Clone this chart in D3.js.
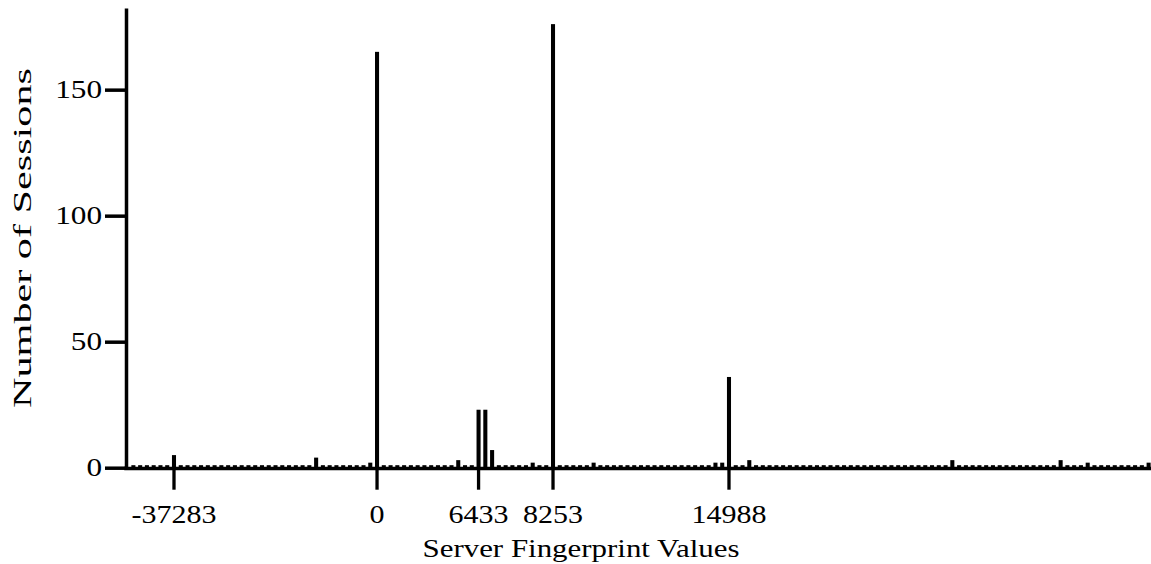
<!DOCTYPE html>
<html>
<head>
<meta charset="utf-8">
<script src="https://cdn.jsdelivr.net/npm/d3@7"></script>
<style>
    body { margin: 0; background: #fff; }
    svg { display: block; }
    .axis text { font-family: "Liberation Serif", "Times New Roman", serif; font-size: 25px; fill: #000; }
    .axis line, .axis path { stroke: #000; }
    .title { font-family: "Liberation Serif", "Times New Roman", serif; font-size: 25px; fill: #000; }
</style>
</head>
<body>
<div id="chart"></div>
<script>
"use strict";

// sessions per fingerprint bucket, left to right
const sessions = [
    1, 1, 1, 1, 1, 1, 5, 1, 1, 1,
    1, 1, 1, 1, 1, 1, 1, 1, 1, 1,
    1, 1, 1, 1, 1, 1, 1, 4, 1, 1,
    1, 1, 1, 1, 1, 2, 165, 1, 1, 1,
    1, 1, 1, 1, 1, 1, 1, 1, 3, 1,
    1, 23, 23, 7, 1, 1, 1, 1, 1, 2,
    1, 1, 176, 1, 1, 1, 1, 1, 2, 1,
    1, 1, 1, 1, 1, 1, 1, 1, 1, 1,
    1, 1, 1, 1, 1, 1, 2, 2, 36, 1,
    1, 3, 1, 1, 1, 1, 1, 1, 1, 1,
    1, 1, 1, 1, 1, 1, 1, 1, 1, 1,
    1, 1, 1, 1, 1, 1, 1, 1, 1, 1,
    1, 3, 1, 1, 1, 1, 1, 1, 1, 1,
    1, 1, 1, 1, 1, 1, 1, 3, 1, 1,
    1, 2, 1, 1, 1, 1, 1, 1, 1, 1,
    2
];
const categories = sessions.map(function (d, i) { return i; });
const tickCategories = [6, 36, 51, 62, 88];
const tickLabels = ["-37283", "0", "6433", "8253", "14988"];
const yTicks = [0, 50, 100, 150];
const yMax = 182.4;

const width = 1151;
const height = 564;
const axisX = 126;

const svg = d3.select("#chart").append("svg")
    .attr("width", width)
    .attr("height", height);

const xScale = d3.scaleBand()
    .domain(categories)
    .range([130, 1152])
    .paddingInner(0.4)
    .paddingOuter(0.2);

const yScale = d3.scaleLinear()
    .domain([0, yMax])
    .range([467.7, 8]);

// bars
svg.append("g")
    .selectAll("rect")
    .data(sessions)
    .enter()
    .append("rect")
    .attr("x", function (d, i) { return xScale(i); })
    .attr("width", xScale.bandwidth())
    .attr("y", function (d) { return yScale(d); })
    .attr("height", function (d) { return yScale(0) - yScale(d); })
    .attr("fill", "#000");

function stretchText(sel, sx) {
    sel.each(function () {
        var t = d3.select(this);
        var x = +t.attr("x") || 0;
        var y = +t.attr("y") || 0;
        t.attr("x", 0).attr("y", 0)
            .attr("transform", "translate(" + x + "," + y + ") scale(" + sx + ",1)");
    });
}

// y axis
const yAxis = d3.axisLeft(yScale)
    .tickValues(yTicks)
    .tickSize(21)
    .tickSizeOuter(0)
    .tickPadding(3);
const gy = svg.append("g")
    .attr("class", "axis")
    .attr("transform", "translate(" + axisX + ",0)")
    .call(yAxis);
gy.select(".domain").attr("stroke-width", 3.5);
gy.selectAll(".tick line").attr("stroke-width", 3.5);
stretchText(gy.selectAll(".tick text"), 1.25);

// x axis
const xAxis = d3.axisBottom(xScale)
    .tickValues(tickCategories)
    .tickFormat(function (d) { return tickLabels[tickCategories.indexOf(d)]; })
    .tickSize(22)
    .tickSizeOuter(0)
    .tickPadding(16);
const gx = svg.append("g")
    .attr("class", "axis")
    .attr("transform", "translate(0," + yScale(0) + ")")
    .call(xAxis);
gx.select(".domain").remove();
gx.append("line")
    .attr("x1", axisX - 1.75)
    .attr("x2", width)
    .attr("y1", 0.8)
    .attr("y2", 0.8)
    .attr("stroke", "#000")
    .attr("stroke-width", 3.5);
gx.selectAll(".tick line").attr("stroke-width", 3.3);
stretchText(gx.selectAll(".tick text"), 1.2);

// axis titles
svg.append("text")
    .attr("class", "title")
    .attr("x", 581)
    .attr("y", 557)
    .attr("text-anchor", "middle")
    .attr("textLength", 317)
    .attr("lengthAdjust", "spacingAndGlyphs")
    .text("Server Fingerprint Values");

svg.append("text")
    .attr("class", "title")
    .attr("transform", "translate(31,238) rotate(-90)")
    .attr("text-anchor", "middle")
    .attr("textLength", 340)
    .attr("lengthAdjust", "spacingAndGlyphs")
    .text("Number of Sessions");
</script>
</body>
</html>
